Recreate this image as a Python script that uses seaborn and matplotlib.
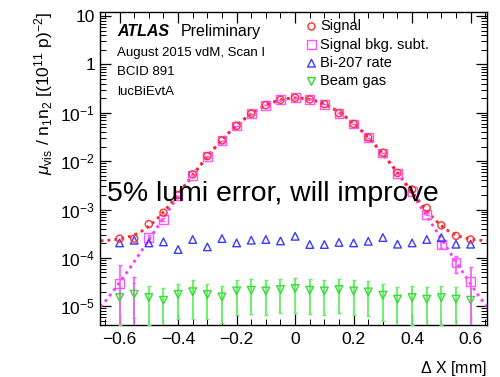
import numpy as np
import pandas as pd
import matplotlib
matplotlib.use("Agg")
import matplotlib.pyplot as plt
import matplotlib.ticker as mticker
import seaborn as sns

# ---- data ----
dx = [-0.60, -0.55, -0.50, -0.45, -0.40, -0.35, -0.30, -0.25, -0.20, -0.15, -0.10, -0.05,
      0.00, 0.05, 0.10, 0.15, 0.20, 0.25, 0.30, 0.35, 0.40, 0.45, 0.50, 0.55, 0.60]

signal = [2.5e-4, 2.5e-4, 5.0e-4, 8.6e-4, 2.0e-3, 5.3e-3, 0.0127, 0.0268, 0.0537, 0.0953, 0.144, 0.186,
          0.204, 0.189, 0.151, 0.098, 0.059, 0.031, 0.0149, 5.7e-3, 2.6e-3, 1.08e-3, 4.7e-4, 2.85e-4, 2.4e-4]

bkg_sub = [3.0e-5, 3.0e-6, 2.6e-4, 6.2e-4, 1.9e-3, 5.1e-3, 0.0125, 0.0266, 0.0535, 0.0951, 0.1438, 0.1858,
           0.2038, 0.1888, 0.1508, 0.0978, 0.0588, 0.0308, 0.0147, 5.5e-3, 2.4e-3, 8.0e-4, 1.92e-4, 7.9e-5, 3.2e-5]
bkg_sub_err = [4.2e-5, 3.7e-5, 3.5e-5, 3.5e-5, 3.5e-5, 3.5e-5, 3.5e-5, 3.5e-5, 3.5e-5, 3.5e-5, 3.5e-5, 3.5e-5,
               3.5e-5, 3.5e-5, 3.5e-5, 3.5e-5, 3.5e-5, 3.5e-5, 3.5e-5, 3.5e-5, 3.5e-5, 3.5e-5, 3.5e-5, 3.0e-5, 3.4e-5]

bi207 = [2.04e-4, 2.32e-4, 2.04e-4, 2.14e-4, 1.49e-4, 2.4e-4, 1.69e-4, 2.51e-4, 2.04e-4, 2.32e-4, 2.4e-4, 2.24e-4,
         2.8e-4, 1.89e-4, 1.89e-4, 2.09e-4, 2.04e-4, 2.2e-4, 2.63e-4, 1.92e-4, 2.04e-4, 2.4e-4, 2.63e-4, 1.92e-4, 1.92e-4]

beam_gas = [1.51e-5, 1.77e-5, 1.51e-5, 1.33e-5, 1.75e-5, 2.0e-5, 1.75e-5, 1.56e-5, 2.07e-5, 2.14e-5, 2.07e-5, 2.21e-5,
            2.32e-5, 2.14e-5, 2.07e-5, 2.21e-5, 2.07e-5, 1.98e-5, 1.69e-5, 1.4e-5, 1.51e-5, 1.4e-5, 1.51e-5, 1.4e-5, 1.33e-5]
beam_gas_err = [1.1e-5, 1.2e-5, 1.1e-5, 1.0e-5, 1.2e-5, 1.45e-5, 1.2e-5, 1.1e-5, 1.4e-5, 1.45e-5, 1.4e-5, 1.5e-5,
                1.6e-5, 1.45e-5, 1.4e-5, 1.5e-5, 1.4e-5, 1.35e-5, 1.2e-5, 1.05e-5, 1.1e-5, 1.05e-5, 1.1e-5, 1.05e-5, 1.0e-5]

ytick_vals = [1e-5, 1e-4, 1e-3, 1e-2, 1e-1, 1, 10]
ytick_labels = [r"$10^{-5}$", r"$10^{-4}$", r"$10^{-3}$", r"$10^{-2}$", r"$10^{-1}$", "1", "10"]
xtick_vals = [-0.6, -0.4, -0.2, 0, 0.2, 0.4, 0.6]
xtick_labels = ["\u22120.6", "\u22120.4", "\u22120.2", "0", "0.2", "0.4", "0.6"]

df = pd.DataFrame({"dx": dx, "signal": signal, "bkg_sub": bkg_sub, "bkg_sub_err": bkg_sub_err,
                   "bi207": bi207, "beam_gas": beam_gas, "beam_gas_err": beam_gas_err})

# fit to background-subtracted points (log-polynomial shape), plus flat background
sel = df[df.bkg_sub > 1e-5]
coef = np.polyfit(sel.dx, np.log(sel.bkg_sub), 4)
xf = np.linspace(-0.665, 0.655, 400)
gfit = np.exp(np.polyval(coef, xf))
const = float(np.mean(bi207))
fit_df = pd.DataFrame({"x": xf, "gauss": gfit, "total": gfit + const})

# ---- style ----
sns.set_style("ticks")
plt.rcParams["font.family"] = ["Liberation Sans", "DejaVu Sans"]
plt.rcParams["mathtext.fontset"] = "custom"
plt.rcParams["mathtext.rm"] = "Liberation Sans"
plt.rcParams["mathtext.it"] = "Liberation Sans:italic"
plt.rcParams["mathtext.bf"] = "Liberation Sans:bold"
plt.rcParams["text.color"] = "black"
plt.rcParams["axes.labelcolor"] = "black"
plt.rcParams["xtick.color"] = "black"
plt.rcParams["ytick.color"] = "black"

fig = plt.figure(figsize=(5.0, 3.77), dpi=100)
ax = fig.add_axes([0.2, 0.138, 0.774, 0.83])
ax.set_yscale("log", nonpositive="clip")

c_sig = "#ff3030"
c_sub = "#ff55ff"
c_bi = "#3a3aff"
c_bg = "#33dd33"

# fit curves
sns.lineplot(data=fit_df, x="x", y="gauss", ax=ax, color="#ff33ff", lw=2.0,
             linestyle=(0, (1, 1.5)), legend=False, zorder=2)
sns.lineplot(data=fit_df, x="x", y="total", ax=ax, color="#ff2222", lw=2.0,
             linestyle=(0, (1, 1.5)), legend=False, zorder=2)

# error bars
ax.errorbar(df.dx, df.beam_gas, yerr=df.beam_gas_err, fmt="none", ecolor="#66ee66",
            elinewidth=1.3, capsize=1.5, capthick=1.0, zorder=3)
ax.errorbar(df.dx, df.bkg_sub, yerr=df.bkg_sub_err, fmt="none", ecolor=c_sub,
            elinewidth=1.2, capsize=1.5, capthick=1.0, zorder=3)

# markers
sns.scatterplot(data=df, x="dx", y="signal", ax=ax, marker="o", s=26, facecolor="none",
                edgecolor=c_sig, linewidth=1.0, label="Signal", zorder=5)
sns.scatterplot(data=df, x="dx", y="bkg_sub", ax=ax, marker="s", s=40, facecolor="none",
                edgecolor=c_sub, linewidth=1.0, label="Signal bkg. subt.", zorder=4)
sns.scatterplot(data=df, x="dx", y="bi207", ax=ax, marker="^", s=30, facecolor="none",
                edgecolor=c_bi, linewidth=1.0, label="Bi-207 rate", zorder=4)
sns.scatterplot(data=df, x="dx", y="beam_gas", ax=ax, marker="v", s=30, facecolor="none",
                edgecolor=c_bg, linewidth=1.0, label="Beam gas", zorder=4)

ax.set_xlim(-0.667, 0.656)
ax.set_ylim(4.1e-6, 12.1)

ax.yaxis.set_major_locator(mticker.FixedLocator(ytick_vals))
ax.yaxis.set_major_formatter(mticker.FixedFormatter(ytick_labels))
ax.yaxis.set_minor_locator(mticker.LogLocator(base=10, subs=np.arange(2, 10), numticks=20))
ax.yaxis.set_minor_formatter(mticker.NullFormatter())
ax.xaxis.set_major_locator(mticker.FixedLocator(xtick_vals))
ax.xaxis.set_major_formatter(mticker.FixedFormatter(xtick_labels))
ax.xaxis.set_minor_locator(mticker.MultipleLocator(0.05))

ax.tick_params(which="both", direction="in", top=True, right=True, labelsize=12.5, colors="black")
ax.tick_params(which="major", length=8, width=0.9)
ax.tick_params(which="minor", length=4, width=0.7)
ax.tick_params(axis="x", which="major", pad=5)
for sp in ax.spines.values():
    sp.set_linewidth(1.0)
    sp.set_color("black")

ax.set_xlabel(r"$\Delta$ X [mm]", fontsize=11.5, loc="right", labelpad=9)
ax.set_ylabel(r"$\mu_{\mathrm{vis}}$ / n$_{1}$n$_{2}$ [(10$^{11}$ p)$^{-2}$]", fontsize=12.5, loc="top", labelpad=4)

leg = ax.legend(loc="upper left", bbox_to_anchor=(0.505, 1.005), frameon=False, fontsize=10.5,
                handletextpad=0.1, labelspacing=0.3, handlelength=1.0, borderaxespad=0.2)

ax.text(0.044, 0.939, "ATLAS", transform=ax.transAxes, fontsize=11.5, fontweight="bold",
        fontstyle="italic", va="center", ha="left")
ax.text(0.209, 0.939, "Preliminary", transform=ax.transAxes, fontsize=11.5, va="center", ha="left")
ax.text(0.044, 0.869, "August 2015 vdM, Scan I", transform=ax.transAxes, fontsize=9.5, va="center")
ax.text(0.044, 0.808, "BCID 891", transform=ax.transAxes, fontsize=9.5, va="center")
ax.text(0.044, 0.744, "lucBiEvtA", transform=ax.transAxes, fontsize=9.5, va="center")

ax.text(0.018, 0.418, "5% lumi error, will improve", transform=ax.transAxes, fontsize=20.5,
        va="center", ha="left", zorder=10)

fig.savefig("out.png", dpi=100)
